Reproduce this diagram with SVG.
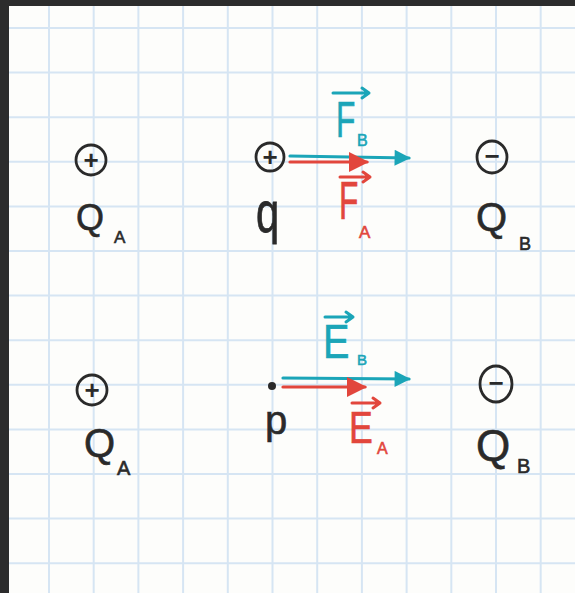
<svg xmlns="http://www.w3.org/2000/svg" width="575" height="593" viewBox="0 0 575 593">
  <style>
    .grid line { stroke: #d6e5f3; stroke-width: 2; }
    .ink { fill: none; stroke: #2a2a2a; stroke-width: 2.8; }
    .sign { font-family: "Liberation Sans", Arial, sans-serif; font-size: 26px; fill: #2a2a2a; text-anchor: middle; dominant-baseline: central; font-weight: bold; }
    .lbl { font-family: "Liberation Sans", Arial, sans-serif; fill: #2a2a2a; stroke: #2a2a2a; stroke-width: 0.6; }
    .teal { fill: #1ba5b8; stroke: #1ba5b8; stroke-width: 0.6; font-family: "Liberation Sans", Arial, sans-serif; }
    .red { fill: #e2463c; stroke: #e2463c; stroke-width: 0.6; font-family: "Liberation Sans", Arial, sans-serif; }
    .vtl { fill: none; stroke: #1ba5b8; stroke-width: 3; stroke-linecap: round; stroke-linejoin: round; }
    .vrd { fill: none; stroke: #e2463c; stroke-width: 3; stroke-linecap: round; stroke-linejoin: round; }
    .conn-teal { stroke: #1ba5b8; stroke-width: 3.2; stroke-linecap: round; fill: none; }
    .conn-red { stroke: #e2463c; stroke-width: 3.2; stroke-linecap: round; fill: none; }
  </style>
  <defs>
    <marker id="headTeal" viewBox="0 0 10 10" refX="9" refY="5" markerUnits="userSpaceOnUse" markerWidth="20" markerHeight="16" orient="auto">
      <path d="M0,0 L10,5 L0,10 Z" fill="#1ba5b8"/>
    </marker>
    <marker id="headRed" viewBox="0 0 10 10" refX="9" refY="5" markerUnits="userSpaceOnUse" markerWidth="20" markerHeight="20" orient="auto">
      <path d="M0,0 L10,5 L0,10 Z" fill="#e2463c"/>
    </marker>
  </defs>

  <!-- frame and paper -->
  <rect x="0" y="0" width="575" height="593" fill="#2c2c2c"/>
  <rect x="9" y="6" width="566" height="587" fill="#fdfdfb"/>

  <g class="grid" id="grid">
    <line x1="49" y1="6" x2="49" y2="593"/>
    <line x1="93.7" y1="6" x2="93.7" y2="593"/>
    <line x1="138.4" y1="6" x2="138.4" y2="593"/>
    <line x1="183.1" y1="6" x2="183.1" y2="593"/>
    <line x1="227.8" y1="6" x2="227.8" y2="593"/>
    <line x1="272.5" y1="6" x2="272.5" y2="593"/>
    <line x1="317.2" y1="6" x2="317.2" y2="593"/>
    <line x1="361.9" y1="6" x2="361.9" y2="593"/>
    <line x1="406.6" y1="6" x2="406.6" y2="593"/>
    <line x1="451.3" y1="6" x2="451.3" y2="593"/>
    <line x1="496" y1="6" x2="496" y2="593"/>
    <line x1="540.7" y1="6" x2="540.7" y2="593"/>
    <line x1="9" y1="28" x2="575" y2="28"/>
    <line x1="9" y1="72.6" x2="575" y2="72.6"/>
    <line x1="9" y1="117.2" x2="575" y2="117.2"/>
    <line x1="9" y1="161.8" x2="575" y2="161.8"/>
    <line x1="9" y1="206.4" x2="575" y2="206.4"/>
    <line x1="9" y1="251" x2="575" y2="251"/>
    <line x1="9" y1="295.6" x2="575" y2="295.6"/>
    <line x1="9" y1="340.2" x2="575" y2="340.2"/>
    <line x1="9" y1="384.8" x2="575" y2="384.8"/>
    <line x1="9" y1="429.4" x2="575" y2="429.4"/>
    <line x1="9" y1="474" x2="575" y2="474"/>
    <line x1="9" y1="518.6" x2="575" y2="518.6"/>
    <line x1="9" y1="563.2" x2="575" y2="563.2"/>
  </g>

  <!-- top row -->
  <g id="QA-top">
    <circle class="ink" cx="91" cy="160" r="15"/>
    <text class="sign" x="91" y="160">+</text>
    <text class="lbl" x="76" y="230" font-size="36">Q</text>
    <text class="lbl" x="114" y="243" font-size="17">A</text>
  </g>

  <g id="q-charge">
    <circle class="ink" cx="270" cy="157" r="14"/>
    <text class="sign" x="270" y="157">+</text>
    <text class="lbl" transform="translate(256,232) scale(0.95,1.3)" font-size="44">q</text>
  </g>

  <g id="QB-top">
    <ellipse class="ink" cx="492" cy="157" rx="15" ry="16"/>
    <text class="sign" x="492" y="156">−</text>
    <text class="lbl" x="476" y="231" font-size="40">Q</text>
    <text class="lbl" x="519" y="250" font-size="18">B</text>
  </g>

  <g id="label-FB">
    <path class="vtl" d="M333,93 L369,93 M362,88 L369,93 L362,98"/>
    <text class="teal" transform="translate(336,137) scale(0.72,1.12)" font-size="44">F</text>
    <text class="teal" x="357" y="146" font-size="16">B</text>
  </g>

  <g id="label-FA">
    <path class="vrd" d="M340,177 L370,177 M363,172 L370,177 L363,182"/>
    <text class="red" transform="translate(339,219) scale(0.72,1.2)" font-size="44">F</text>
    <text class="red" x="359" y="238" font-size="17">A</text>
  </g>

  <!-- bottom row -->
  <g id="QA-bottom">
    <circle class="ink" cx="92" cy="390" r="15"/>
    <text class="sign" x="92" y="390">+</text>
    <text class="lbl" x="84" y="457" font-size="40">Q</text>
    <text class="lbl" x="117" y="475" font-size="20">A</text>
  </g>

  <g id="point-P">
    <circle cx="272" cy="386" r="4" fill="#2a2a2a"/>
    <text class="lbl" x="265" y="434" font-size="40">p</text>
  </g>

  <g id="QB-bottom">
    <ellipse class="ink" cx="496" cy="384" rx="16" ry="18"/>
    <text class="sign" x="496" y="383">−</text>
    <text class="lbl" x="476" y="461" font-size="44">Q</text>
    <text class="lbl" x="517" y="473" font-size="20">B</text>
  </g>

  <g id="label-EB">
    <path class="vtl" d="M325,317 L353,317 M346,312 L353,317 L346,322"/>
    <text class="teal" transform="translate(323,358) scale(0.9,1.1)" font-size="44">E</text>
    <text class="teal" x="357" y="365" font-size="15">B</text>
  </g>

  <g id="label-EA">
    <path class="vrd" d="M352,403 L380,403 M373,398 L380,403 L373,408"/>
    <text class="red" transform="translate(349,443) scale(0.85,1.05)" font-size="42">E</text>
    <text class="red" x="377" y="454" font-size="16">A</text>
  </g>

  <!-- connectors (force / field vectors) -->
  <g id="connectors">
    <line class="conn-teal" x1="290" y1="156" x2="409" y2="158" marker-end="url(#headTeal)"/>
    <line class="conn-red" x1="290" y1="162" x2="367" y2="162" marker-end="url(#headRed)"/>
    <line class="conn-teal" x1="283" y1="378" x2="409" y2="379" marker-end="url(#headTeal)"/>
    <line class="conn-red" x1="283" y1="387" x2="365" y2="387" marker-end="url(#headRed)"/>
  </g>
</svg>
